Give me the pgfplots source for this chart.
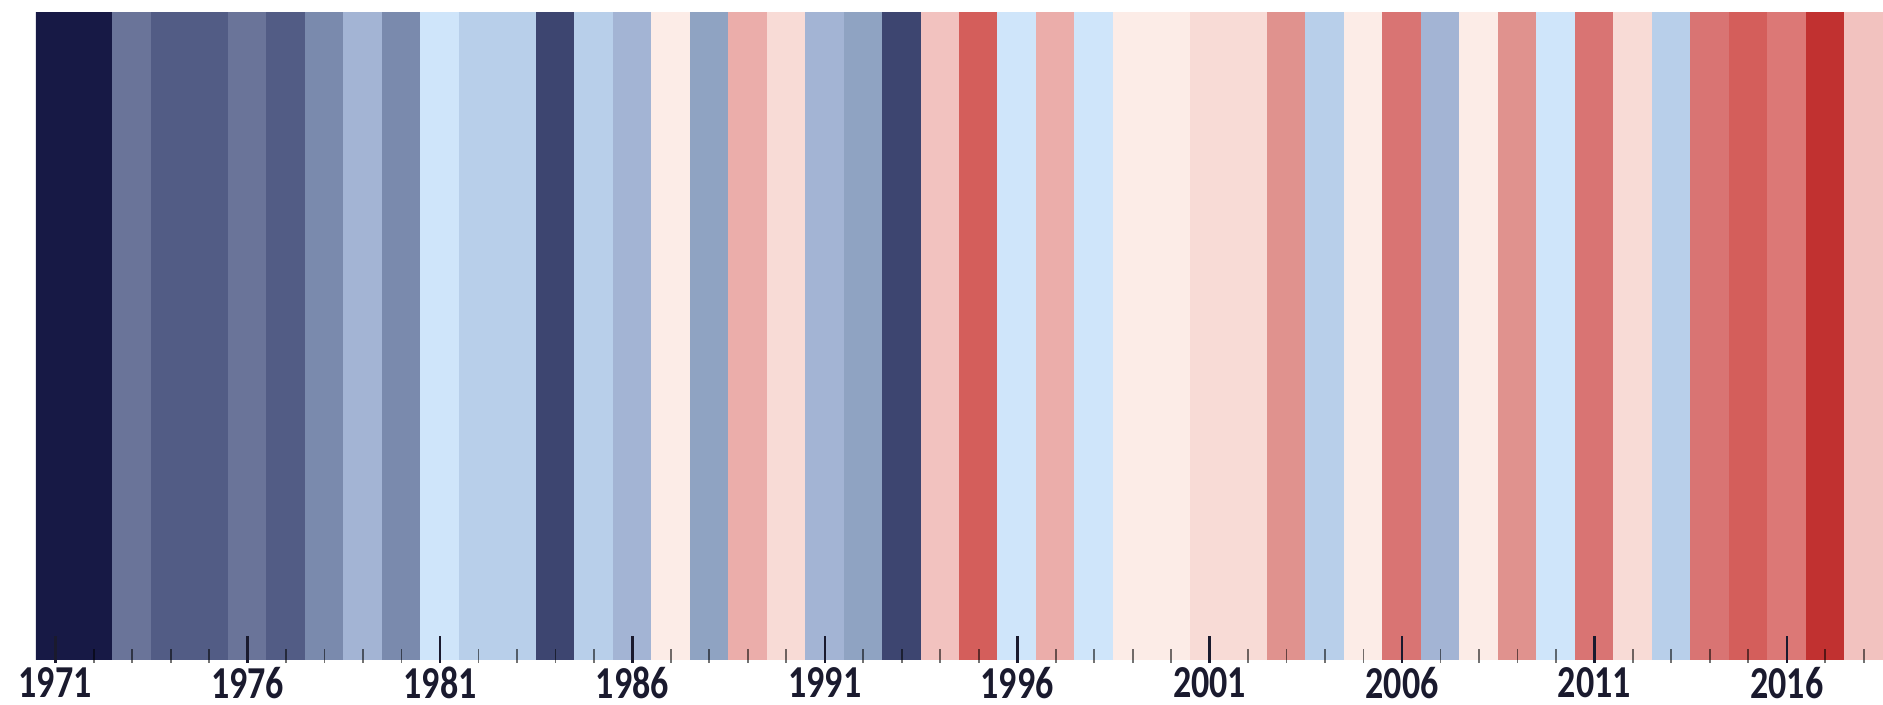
\documentclass[border=0pt]{standalone}
\usepackage{fontspec}
\setmainfont{Carlito}
\usepackage{graphicx}
\usepackage{pgfplots}
\pgfplotsset{compat=1.18}
\definecolor{cA}{HTML}{171945}
\definecolor{cB}{HTML}{6A7499}
\definecolor{cC}{HTML}{525C85}
\definecolor{cD}{HTML}{7A8AAD}
\definecolor{cE}{HTML}{A3B4D4}
\definecolor{cF}{HTML}{CFE5FA}
\definecolor{cG}{HTML}{B8CFEA}
\definecolor{cH}{HTML}{3D4570}
\definecolor{cI}{HTML}{FCECE7}
\definecolor{cJ}{HTML}{8FA3C2}
\definecolor{cK}{HTML}{EBADAA}
\definecolor{cL}{HTML}{F8DBD6}
\definecolor{cM}{HTML}{F2C2BF}
\definecolor{cN}{HTML}{D45E5B}
\definecolor{cO}{HTML}{E0928E}
\definecolor{cP}{HTML}{D97473}
\definecolor{cQ}{HTML}{DC7876}
\definecolor{cR}{HTML}{C13130}
\definecolor{lbl}{HTML}{1A1A2E}
\newcommand{\yr}[2]{\addplot[fill=#2,draw=#2,line width=0.25pt] coordinates {(#1,1)};}
\newcommand{\lb}[1]{\scalebox{1}[1.27]{\bfseries #1}}
\begin{document}
\begin{tikzpicture}
\begin{axis}[
  scale only axis,
  width=461.75pt, height=161.75pt,
  xmin=1970.5, xmax=2018.5, ymin=0, ymax=1,
  ybar, bar width=1, bar shift=0pt,
  axis on top,
  axis line style={draw=none},
  ytick=\empty,
  xtick={1971,1976,1981,1986,1991,1996,2001,2006,2011,2016},
  xticklabels={\lb{1971},\lb{1976},\lb{1981},\lb{1986},\lb{1991},\lb{1996},\lb{2001},\lb{2006},\lb{2011},\lb{2016}},
  minor xtick={1972,1973,1974,1975,1977,1978,1979,1980,1982,1983,1984,1985,1987,1988,1989,1990,1992,1993,1994,1995,1997,1998,1999,2000,2002,2003,2004,2005,2007,2008,2009,2010,2012,2013,2014,2015,2017,2018},
  xtick pos=left,
  tick align=inside,
  major tick length=6.75pt,
  minor tick length=3.6pt,
  major tick style={draw=lbl, line width=0.65pt, yshift=-0.75pt},
  minor tick style={draw=black, draw opacity=0.55, line width=0.45pt, yshift=-0.75pt},
  xticklabel style={font=\fontsize{9}{10}\selectfont, text=lbl, inner sep=0pt, anchor=north, yshift=-1.6pt},
]
\yr{1971}{cA}
\yr{1972}{cA}
\yr{1973}{cB}
\yr{1974}{cC}
\yr{1975}{cC}
\yr{1976}{cB}
\yr{1977}{cC}
\yr{1978}{cD}
\yr{1979}{cE}
\yr{1980}{cD}
\yr{1981}{cF}
\yr{1982}{cG}
\yr{1983}{cG}
\yr{1984}{cH}
\yr{1985}{cG}
\yr{1986}{cE}
\yr{1987}{cI}
\yr{1988}{cJ}
\yr{1989}{cK}
\yr{1990}{cL}
\yr{1991}{cE}
\yr{1992}{cJ}
\yr{1993}{cH}
\yr{1994}{cM}
\yr{1995}{cN}
\yr{1996}{cF}
\yr{1997}{cK}
\yr{1998}{cF}
\yr{1999}{cI}
\yr{2000}{cI}
\yr{2001}{cL}
\yr{2002}{cL}
\yr{2003}{cO}
\yr{2004}{cG}
\yr{2005}{cI}
\yr{2006}{cP}
\yr{2007}{cE}
\yr{2008}{cI}
\yr{2009}{cO}
\yr{2010}{cF}
\yr{2011}{cP}
\yr{2012}{cL}
\yr{2013}{cG}
\yr{2014}{cP}
\yr{2015}{cN}
\yr{2016}{cQ}
\yr{2017}{cR}
\yr{2018}{cM}
\end{axis}
\pgfresetboundingbox
\path ([shift={(-9pt,-11.25pt)}]current axis.south west) rectangle ([shift={(0pt,3.25pt)}]current axis.north east);
\end{tikzpicture}
\end{document}
